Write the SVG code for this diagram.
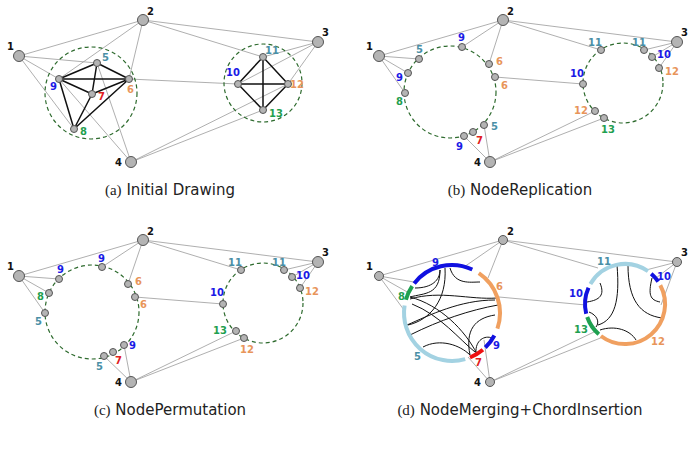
<svg xmlns="http://www.w3.org/2000/svg" width="693" height="453" viewBox="0 0 693 453">
<style>
.g{stroke:#9a9a9a;stroke-width:0.8;fill:none}
.k{stroke:#111;stroke-width:1.5;fill:none}
.ch{stroke:#111;stroke-width:1;fill:none}
.cl{stroke:#2e6b2e;stroke-width:1.2;stroke-dasharray:4,3;fill:none}
.B{fill:#b4b4b4;stroke:#555;stroke-width:1}
.l{font-family:"DejaVu Sans",sans-serif;font-size:10px;font-weight:bold}
.c0{fill:#111}.c5{fill:#4a8fa6}.c9{fill:#1a1ae6}.c6{fill:#e8955a}.c7{fill:#e02020}.c8{fill:#1fa050}
.cap{font-family:"DejaVu Sans",sans-serif;font-size:15px;fill:#222}
.ar{fill:none;stroke-width:4}
</style>
<rect width="693" height="453" fill="#fff"/>
<g id="connectors">
<path class="g" d="M19,56L143,20M143,20L318,42M19,56L97,63M19,56L59,79M19,56L74,129M143,20L59,79M143,20L129,79M143,20L263,57M318,42L263,57M318,42L238,84M318,42L288,84M131,162L288,84M131,162L263,110M131,162L59,79M131,162L97,63M129,79L238,84"/>
<path class="k" d="M97,63L59,79M97,63L129,79M97,63L92,94M59,79L129,79M59,79L92,94M59,79L74,129M129,79L92,94M129,79L74,129M92,94L74,129M263,57L238,84M263,57L288,84M263,57L263,110M238,84L288,84M238,84L263,110M288,84L263,110"/>
<path class="g" d="M379,56L503,20M503,20L677,42M379,56L419,59M379,56L408,73M379,56L405,93M503,20L462,47M503,20L489,64M503,20L601,50M677,42L644,50M677,42L652,57M677,42L659,68M490,162L595,111M490,162L604,118M490,162L464,136M490,162L484,125M495,77L583,84"/>
<path class="g" d="M19,276L143,240M143,240L318,262M19,276L59,279M19,276L49,293M19,276L45,313M143,240L102,267M143,240L128,284M143,240L241,270M318,262L284,270M318,262L292,277M318,262L300,288M131,382L236,331M131,382L244,338M131,382L124,345M131,382L104,356M135,297L223,304"/>
<path class="g" d="M379,276L503,240M503,240L677,262M379,276L414,282M379,276L409,293M379,276L404,310M503,240L464,267M503,240L488,278M503,240L598,268M677,262L646,270M677,262L656,278M677,262L661,305M490,382L468,357M490,382L484,340M490,382L594,332M490,382L603,337M499,297L586,305"/>
<path class="ch" d="M415,288C432,288 440,280 440,270M440,270C440,295 425,293 410,297M450,268C455,285 470,282 480,282M410,299C440,290 470,300 497,298M410,297C440,305 465,330 477,354M412,304C440,315 460,340 475,352M407,325C430,315 460,300 495,300M410,335C440,320 470,310 498,305M423,347C440,338 460,345 470,355M470,355C465,330 475,318 495,315M476,353C475,340 485,335 492,338M445,268C447,300 430,320 408,325"/>
<path class="ch" d="M617,265C620,300 615,320 598,325M628,265C628,300 640,315 662,318M600,283C605,295 600,300 587,302M652,278C648,295 650,300 660,302M589,312C597,315 600,322 596,327M600,330C615,325 630,330 636,340"/>
</g>
<g id="clusters">
<circle class="cl" cx="91" cy="93" r="46"/><circle class="cl" cx="263" cy="83" r="39"/>
<circle class="cl" cx="450" cy="92" r="46"/><circle class="cl" cx="623" cy="83" r="40"/>
<circle class="cl" cx="92" cy="312" r="47"/><circle class="cl" cx="263" cy="303" r="40"/>
</g>
<g id="rings">
<path class="ar" stroke="#a3d2e2" d="M465.2,359.1A48,48 0 0 1 404.6,305.5"/>
<path class="ar" stroke="#1fa050" d="M405.9,299.8A48,48 0 0 1 412.2,286.2"/>
<path class="ar" stroke="#1010e0" d="M414.2,283.4A48,48 0 0 1 472.3,269.5"/>
<path class="ar" stroke="#f0a060" d="M478.8,273.2A48,48 0 0 1 497.4,328.6"/>
<path class="ar" stroke="#1010e0" d="M494.4,335.5A48,48 0 0 1 485.3,347.5"/>
<path class="ar" stroke="#ee1010" stroke-width="5" d="M482.9,349.8A48,48 0 0 1 470,357.5"/>
<path class="ar" stroke="#a3d2e2" d="M590.4,284A40,40 0 0 1 648,271.2"/>
<path class="ar" stroke="#1010e0" d="M651.2,273.8A40,40 0 0 1 658.2,281.6"/>
<path class="ar" stroke="#f0a060" d="M660.3,285.2A40,40 0 0 1 600.9,336"/>
<path class="ar" stroke="#1fa050" d="M598.8,334.2A40,40 0 0 1 587.2,317"/>
<path class="ar" stroke="#1010e0" d="M586.2,313.7A40,40 0 0 1 588.5,287.7"/>
</g>
<g id="nodes-a">
<circle class="B" cx="19" cy="56" r="5.5"/><circle class="B" cx="143" cy="20" r="5.5"/><circle class="B" cx="318" cy="42" r="5.5"/><circle class="B" cx="131" cy="162" r="5.5"/>
<circle class="B" cx="97" cy="63" r="3.5"/><circle class="B" cx="59" cy="79" r="3.5"/><circle class="B" cx="129" cy="79" r="3.5"/><circle class="B" cx="92" cy="94" r="3.5"/><circle class="B" cx="74" cy="129" r="3.5"/>
<circle class="B" cx="263" cy="57" r="3.5"/><circle class="B" cx="238" cy="84" r="3.5"/><circle class="B" cx="288" cy="84" r="3.5"/><circle class="B" cx="263" cy="110" r="3.5"/>
<text class="l c0" x="7" y="50">1</text><text class="l c0" x="147" y="15">2</text><text class="l c0" x="322" y="36">3</text><text class="l c0" x="115" y="166">4</text>
<text class="l c5" x="102" y="61">5</text><text class="l c9" x="50" y="90">9</text><text class="l c6" x="127" y="93">6</text><text class="l c7" x="98" y="100">7</text><text class="l c8" x="80" y="135">8</text>
<text class="l c5" x="265" y="54">11</text><text class="l c9" x="226" y="76">10</text><text class="l c6" x="290" y="88">12</text><text class="l c8" x="269" y="117">13</text>
</g>
<g id="nodes-b">
<circle class="B" cx="379" cy="56" r="5.5"/><circle class="B" cx="503" cy="20" r="5.5"/><circle class="B" cx="677" cy="42" r="5.5"/><circle class="B" cx="490" cy="162" r="5.5"/>
<circle class="B" cx="419" cy="59" r="3.5"/><circle class="B" cx="408" cy="73" r="3.5"/><circle class="B" cx="405" cy="93" r="3.5"/><circle class="B" cx="462" cy="47" r="3.5"/><circle class="B" cx="489" cy="64" r="3.5"/><circle class="B" cx="495" cy="77" r="3.5"/><circle class="B" cx="484" cy="125" r="3.5"/><circle class="B" cx="473" cy="132" r="3.5"/><circle class="B" cx="464" cy="136" r="3.5"/>
<circle class="B" cx="601" cy="50" r="3.5"/><circle class="B" cx="644" cy="50" r="3.5"/><circle class="B" cx="652" cy="57" r="3.5"/><circle class="B" cx="659" cy="68" r="3.5"/><circle class="B" cx="583" cy="84" r="3.5"/><circle class="B" cx="595" cy="111" r="3.5"/><circle class="B" cx="604" cy="118" r="3.5"/>
<text class="l c0" x="366" y="50">1</text><text class="l c0" x="507" y="15">2</text><text class="l c0" x="681" y="36">3</text><text class="l c0" x="474" y="166">4</text>
<text class="l c5" x="416" y="53">5</text><text class="l c9" x="396" y="81">9</text><text class="l c8" x="396" y="105">8</text><text class="l c9" x="458" y="41">9</text><text class="l c6" x="496" y="65">6</text><text class="l c6" x="501" y="89">6</text><text class="l c5" x="491" y="130">5</text><text class="l c7" x="476" y="144">7</text><text class="l c9" x="456" y="150">9</text>
<text class="l c5" x="588" y="46">11</text><text class="l c5" x="632" y="46">11</text><text class="l c9" x="657" y="58">10</text><text class="l c6" x="665" y="75">12</text><text class="l c9" x="570" y="77">10</text><text class="l c6" x="574" y="114">12</text><text class="l c8" x="601" y="133">13</text>
</g>
<g id="nodes-c">
<circle class="B" cx="19" cy="276" r="5.5"/><circle class="B" cx="143" cy="240" r="5.5"/><circle class="B" cx="318" cy="262" r="5.5"/><circle class="B" cx="131" cy="382" r="5.5"/>
<circle class="B" cx="59" cy="279" r="3.5"/><circle class="B" cx="49" cy="293" r="3.5"/><circle class="B" cx="45" cy="313" r="3.5"/><circle class="B" cx="102" cy="267" r="3.5"/><circle class="B" cx="128" cy="284" r="3.5"/><circle class="B" cx="135" cy="297" r="3.5"/><circle class="B" cx="124" cy="345" r="3.5"/><circle class="B" cx="113" cy="352" r="3.5"/><circle class="B" cx="104" cy="356" r="3.5"/>
<circle class="B" cx="241" cy="270" r="3.5"/><circle class="B" cx="284" cy="270" r="3.5"/><circle class="B" cx="292" cy="277" r="3.5"/><circle class="B" cx="300" cy="288" r="3.5"/><circle class="B" cx="223" cy="304" r="3.5"/><circle class="B" cx="236" cy="331" r="3.5"/><circle class="B" cx="244" cy="338" r="3.5"/>
<text class="l c0" x="7" y="270">1</text><text class="l c0" x="147" y="235">2</text><text class="l c0" x="322" y="256">3</text><text class="l c0" x="115" y="386">4</text>
<text class="l c9" x="57" y="273">9</text><text class="l c8" x="37" y="300">8</text><text class="l c5" x="35" y="325">5</text><text class="l c9" x="98" y="262">9</text><text class="l c6" x="135" y="285">6</text><text class="l c6" x="140" y="308">6</text><text class="l c9" x="129" y="349">9</text><text class="l c7" x="115" y="364">7</text><text class="l c5" x="96" y="370">5</text>
<text class="l c5" x="228" y="266">11</text><text class="l c5" x="272" y="266">11</text><text class="l c9" x="296" y="279">10</text><text class="l c6" x="305" y="295">12</text><text class="l c9" x="210" y="296">10</text><text class="l c8" x="213" y="334">13</text><text class="l c6" x="240" y="353">12</text>
</g>
<g id="nodes-d">
<circle class="B" cx="379" cy="276" r="4.5"/><circle class="B" cx="503" cy="240" r="4.5"/><circle class="B" cx="677" cy="262" r="4.5"/><circle class="B" cx="490" cy="382" r="4.5"/>
<text class="l c0" x="366" y="270">1</text><text class="l c0" x="507" y="235">2</text><text class="l c0" x="681" y="256">3</text><text class="l c0" x="474" y="386">4</text>
<text class="l c9" x="432" y="266">9</text><text class="l c8" x="398" y="300">8</text><text class="l c6" x="496" y="290">6</text><text class="l c9" x="493" y="349">9</text><text class="l c7" x="475" y="366">7</text><text class="l c5" x="414" y="360">5</text>
<text class="l c5" x="597" y="265">11</text><text class="l c9" x="657" y="280">10</text><text class="l c9" x="569" y="297">10</text><text class="l c8" x="574" y="333">13</text><text class="l c6" x="651" y="345">12</text>
</g>
<g id="captions">
<text class="cap" x="170" y="195" text-anchor="middle"><tspan font-family="Liberation Serif">(a)</tspan> Initial Drawing</text>
<text class="cap" x="520" y="195" text-anchor="middle"><tspan font-family="Liberation Serif">(b)</tspan> NodeReplication</text>
<text class="cap" x="170" y="415" text-anchor="middle"><tspan font-family="Liberation Serif">(c)</tspan> NodePermutation</text>
<text class="cap" x="520" y="415" text-anchor="middle"><tspan font-family="Liberation Serif">(d)</tspan> NodeMerging+ChordInsertion</text>
</g>
</svg>
